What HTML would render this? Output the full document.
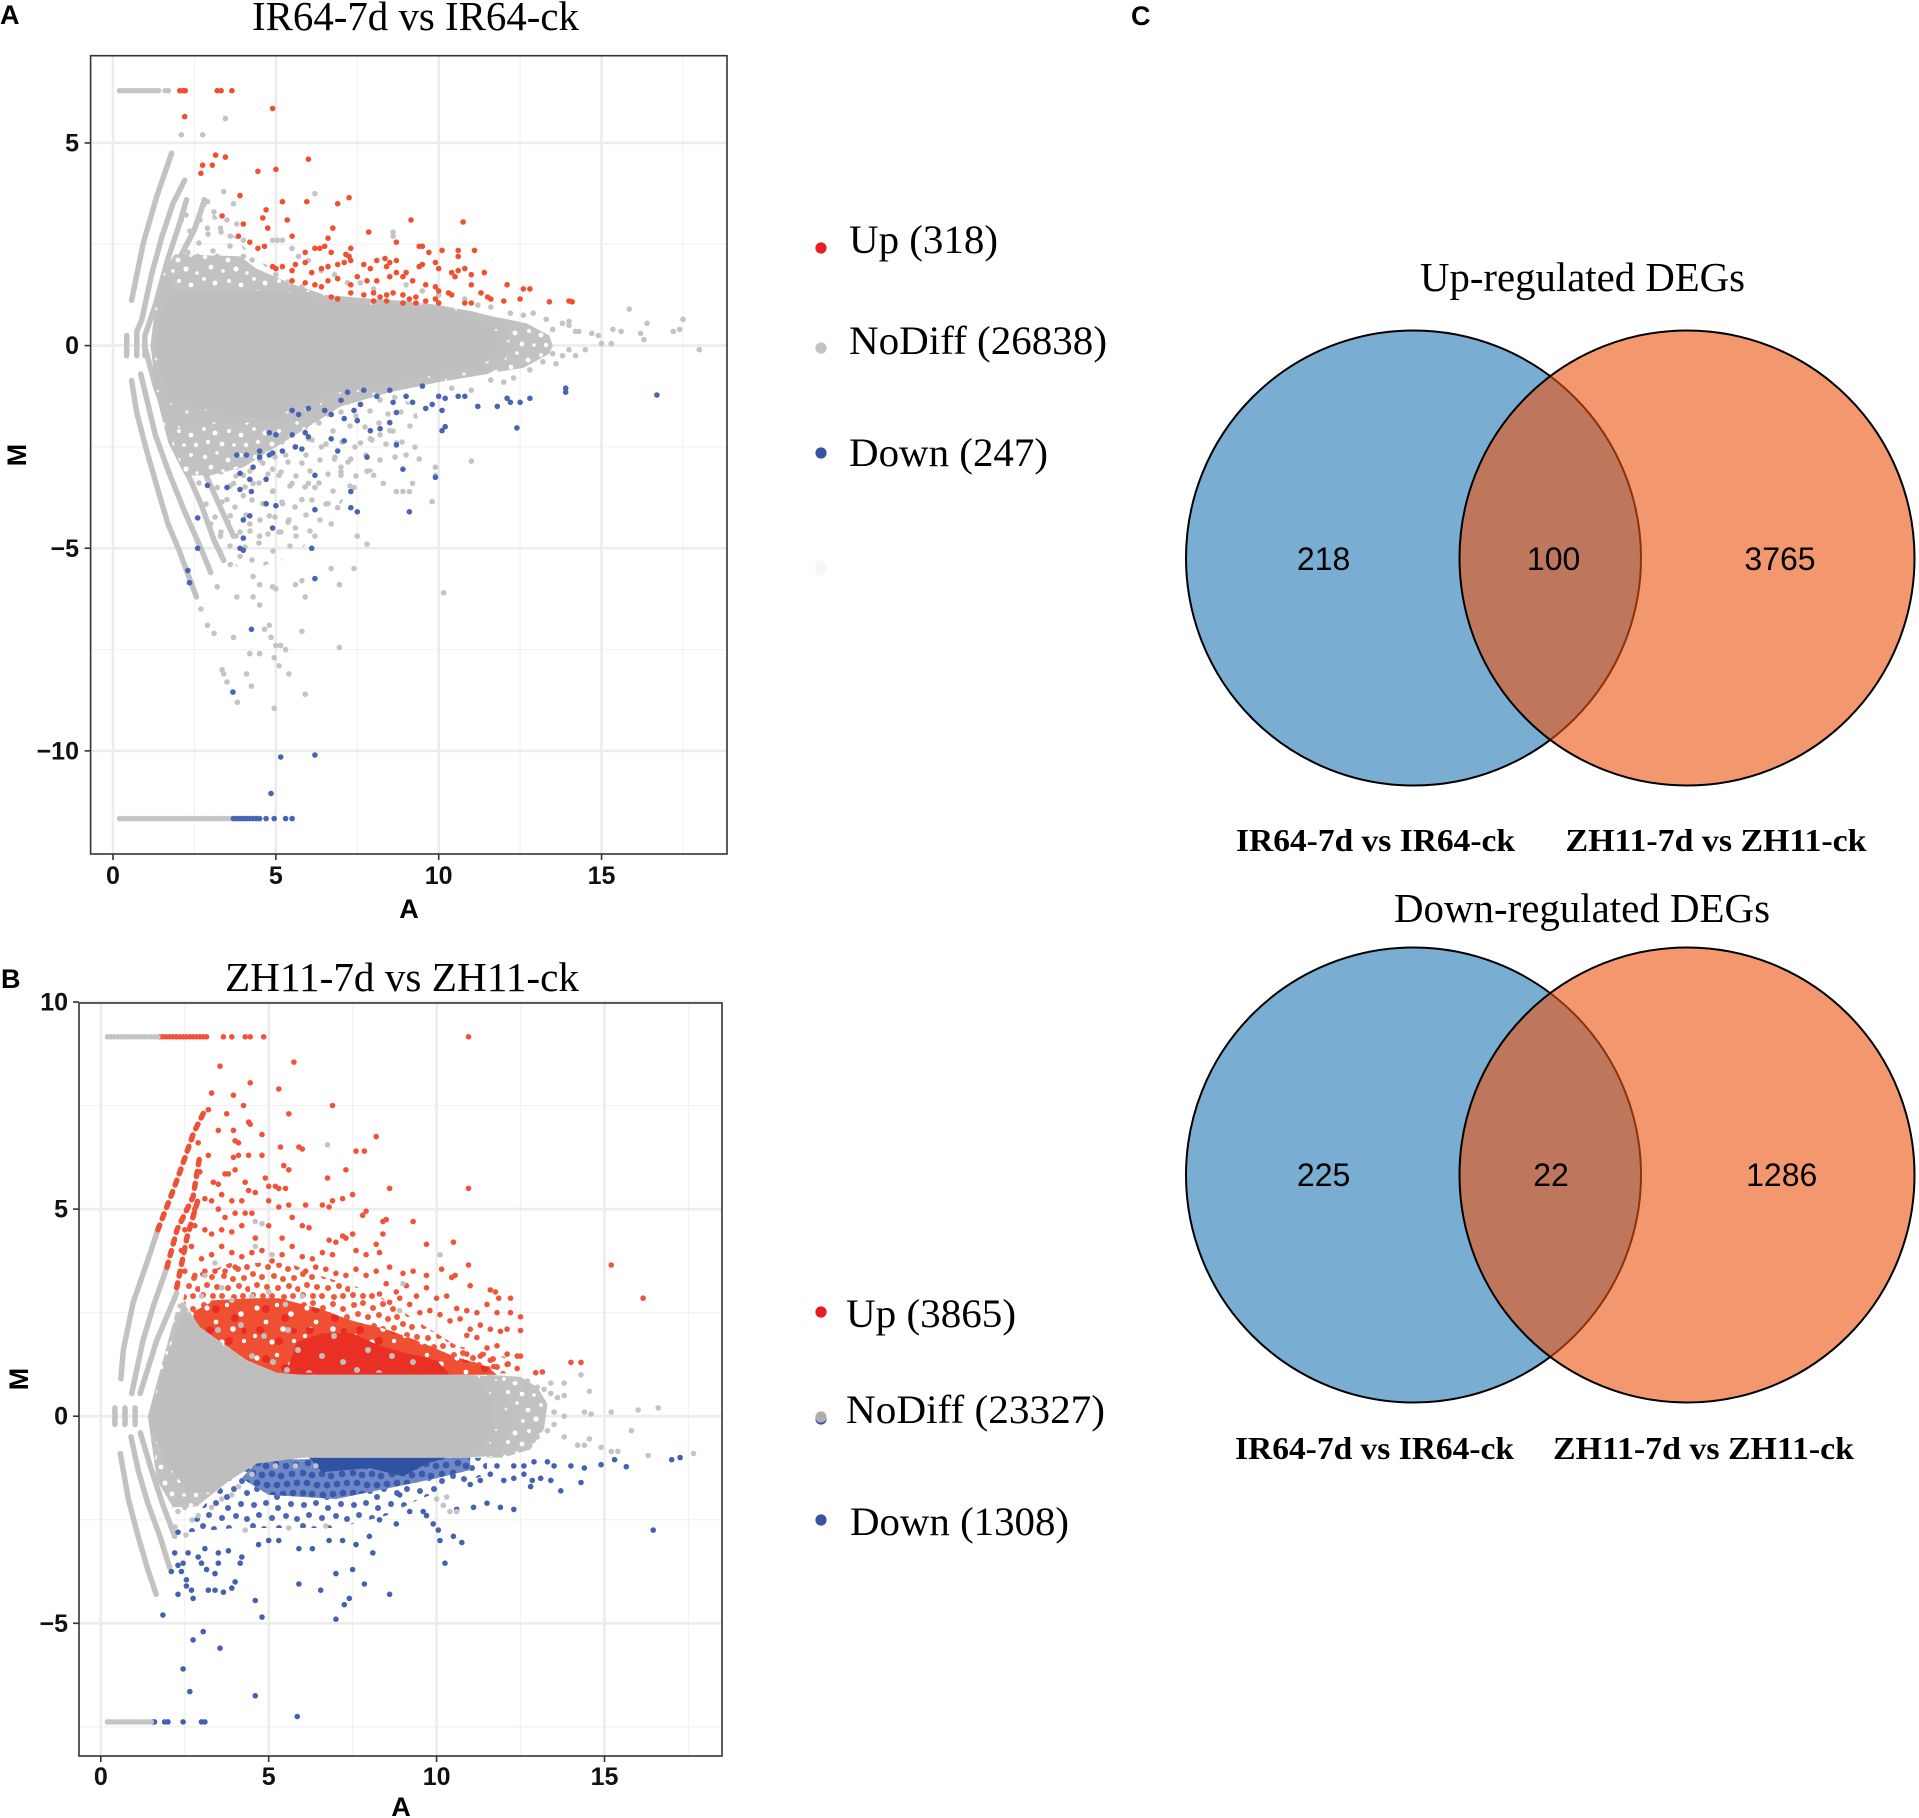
<!DOCTYPE html>
<html lang="en">
<head>
<meta charset="utf-8">
<title>MA plots and Venn diagrams of DEGs</title>
<style>
html,body{margin:0;padding:0;background:#fff;width:1919px;height:1818px;overflow:hidden}
svg{display:block}
text{fill:#000}
.tick{font-family:"Liberation Sans",sans-serif;font-weight:bold;font-size:25px;fill:#111}
.axt{font-family:"Liberation Sans",sans-serif;font-weight:bold;font-size:27px}
.plab{font-family:"Liberation Sans",sans-serif;font-weight:bold;font-size:27px}
.ttl{font-family:"Liberation Serif",serif;font-size:41px}
.leg{font-family:"Liberation Serif",serif;font-size:40px}
.vlab{font-family:"Liberation Serif",serif;font-weight:bold;font-size:32px}
.vnum{font-family:"Liberation Sans",sans-serif;font-size:32px;text-anchor:middle}
</style>
</head>
<body>
<svg id="fig" xmlns="http://www.w3.org/2000/svg" width="1919" height="1818" viewBox="0 0 1919 1818">
  <defs>
    <pattern id="grayDense" patternUnits="userSpaceOnUse" width="50" height="50">
      <rect width="50" height="50" fill="#c0c0c0"/>
      <g fill="#fff" fill-opacity="0.75">
        <circle cx="6" cy="9" r="1.5"/><circle cx="21" cy="4" r="1.1"/><circle cx="37" cy="12" r="1.7"/><circle cx="46" cy="30" r="1.2"/><circle cx="14" cy="24" r="1.8"/><circle cx="29" cy="27" r="1.2"/><circle cx="8" cy="41" r="1.3"/><circle cx="24" cy="44" r="1.7"/><circle cx="40" cy="43" r="1.1"/>
      </g>
    </pattern>
    <pattern id="grayMed" patternUnits="userSpaceOnUse" width="50" height="50">
      <rect width="50" height="50" fill="#c2c2c2"/>
      <g fill="#fff">
        <circle cx="5" cy="7" r="2.2"/><circle cx="17" cy="3" r="1.7"/><circle cx="28" cy="10" r="2.5"/><circle cx="41" cy="5" r="2"/><circle cx="11" cy="17" r="2.4"/><circle cx="23" cy="21" r="1.8"/><circle cx="36" cy="19" r="2.6"/><circle cx="47" cy="23" r="1.7"/><circle cx="4" cy="29" r="1.9"/><circle cx="15" cy="33" r="2.5"/><circle cx="29" cy="31" r="2"/><circle cx="41" cy="35" r="2.4"/><circle cx="8" cy="42" r="2.1"/><circle cx="22" cy="44" r="2.4"/><circle cx="34" cy="45" r="1.8"/><circle cx="46" cy="45" r="2.2"/>
      </g>
    </pattern>
    <pattern id="graySparse" patternUnits="userSpaceOnUse" width="60" height="60">
      <g fill="#c4c4c4">
        <circle cx="5" cy="7" r="2.8"/><circle cx="19" cy="3" r="2.8"/><circle cx="33" cy="11" r="2.8"/><circle cx="50" cy="6" r="2.8"/><circle cx="12" cy="20" r="2.8"/><circle cx="26" cy="24" r="2.8"/><circle cx="42" cy="22" r="2.8"/><circle cx="55" cy="27" r="2.8"/><circle cx="6" cy="35" r="2.8"/><circle cx="20" cy="40" r="2.8"/><circle cx="35" cy="37" r="2.8"/><circle cx="48" cy="42" r="2.8"/><circle cx="10" cy="51" r="2.8"/><circle cx="28" cy="54" r="2.8"/><circle cx="41" cy="52" r="2.8"/><circle cx="56" cy="56" r="2.8"/>
      </g>
    </pattern>
    <pattern id="redMed" patternUnits="userSpaceOnUse" width="50" height="50">
      <g fill="#f05a3c">
        <circle cx="4" cy="5" r="3"/><circle cx="13" cy="3" r="3"/><circle cx="23" cy="8" r="3"/><circle cx="33" cy="4" r="3"/><circle cx="43" cy="9" r="3"/><circle cx="8" cy="14" r="3"/><circle cx="18" cy="17" r="3"/><circle cx="29" cy="15" r="3"/><circle cx="38" cy="19" r="3"/><circle cx="47" cy="17" r="3"/><circle cx="3" cy="24" r="3"/><circle cx="12" cy="27" r="3"/><circle cx="24" cy="26" r="3"/><circle cx="33" cy="29" r="3"/><circle cx="44" cy="28" r="3"/><circle cx="7" cy="35" r="3"/><circle cx="17" cy="37" r="3"/><circle cx="28" cy="38" r="3"/><circle cx="39" cy="36" r="3"/><circle cx="48" cy="39" r="3"/><circle cx="3" cy="45" r="3"/><circle cx="13" cy="46" r="3"/><circle cx="22" cy="46" r="3"/><circle cx="34" cy="47" r="3"/><circle cx="43" cy="46" r="3"/>
      </g>
    </pattern>
    <pattern id="redDense" patternUnits="userSpaceOnUse" width="50" height="50">
      <rect width="50" height="50" fill="#ef4f33"/>
      <g fill="#fff">
        <circle cx="7" cy="8" r="2.6"/><circle cx="27" cy="5" r="2.2"/><circle cx="41" cy="14" r="2.8"/><circle cx="16" cy="22" r="2.4"/><circle cx="33" cy="29" r="2.8"/><circle cx="5" cy="36" r="2.2"/><circle cx="22" cy="42" r="2.6"/><circle cx="44" cy="41" r="2.2"/>
      </g>
      <g fill="#e92c22">
        <circle cx="16" cy="9" r="4"/><circle cx="35" cy="18" r="4"/><circle cx="10" cy="30" r="4"/><circle cx="29" cy="41" r="4"/><circle cx="44" cy="31" r="3"/>
      </g>
    </pattern>
    <pattern id="blueMed" patternUnits="userSpaceOnUse" width="50" height="50">
      <g fill="#4a66b4">
        <circle cx="4" cy="5" r="3"/><circle cx="16" cy="3" r="3"/><circle cx="28" cy="8" r="3"/><circle cx="41" cy="4" r="3"/><circle cx="9" cy="15" r="3"/><circle cx="22" cy="18" r="3"/><circle cx="36" cy="16" r="3"/><circle cx="47" cy="19" r="3"/><circle cx="3" cy="26" r="3"/><circle cx="14" cy="29" r="3"/><circle cx="29" cy="28" r="3"/><circle cx="42" cy="31" r="3"/><circle cx="7" cy="39" r="3"/><circle cx="20" cy="41" r="3"/><circle cx="34" cy="39" r="3"/><circle cx="47" cy="43" r="3"/><circle cx="27" cy="47" r="3"/>
      </g>
    </pattern>
    <pattern id="blueDense" patternUnits="userSpaceOnUse" width="50" height="50">
      <rect width="50" height="50" fill="#6f88c6"/>
      <g fill="#3a5bad">
        <circle cx="4" cy="5" r="3.4"/><circle cx="12" cy="3" r="3.4"/><circle cx="21" cy="7" r="3.4"/><circle cx="31" cy="4" r="3.4"/><circle cx="41" cy="7" r="3.4"/><circle cx="8" cy="13" r="3.4"/><circle cx="16" cy="16" r="3.4"/><circle cx="26" cy="14" r="3.4"/><circle cx="36" cy="16" r="3.4"/><circle cx="46" cy="15" r="3.4"/><circle cx="3" cy="23" r="3.4"/><circle cx="12" cy="25" r="3.4"/><circle cx="22" cy="24" r="3.4"/><circle cx="31" cy="26" r="3.4"/><circle cx="42" cy="24" r="3.4"/><circle cx="7" cy="33" r="3.4"/><circle cx="17" cy="35" r="3.4"/><circle cx="27" cy="35" r="3.4"/><circle cx="37" cy="34" r="3.4"/><circle cx="47" cy="33" r="3.4"/><circle cx="3" cy="43" r="3.4"/><circle cx="12" cy="44" r="3.4"/><circle cx="23" cy="45" r="3.4"/><circle cx="33" cy="44" r="3.4"/><circle cx="43" cy="43" r="3.4"/>
      </g>
    </pattern>
    <pattern id="graySpeck" patternUnits="userSpaceOnUse" width="70" height="60">
      <g fill="#c2bebc">
        <circle cx="8" cy="10" r="3"/><circle cx="31" cy="5" r="3"/><circle cx="54" cy="16" r="3"/><circle cx="18" cy="30" r="3"/><circle cx="42" cy="36" r="3"/><circle cx="63" cy="42" r="3"/><circle cx="7" cy="50" r="3"/><circle cx="29" cy="53" r="3"/>
      </g>
    </pattern>
  </defs>

  <rect width="1919" height="1818" fill="#fff"/>

  <text class="plab" x="0" y="24">A</text>
  <text class="plab" x="1" y="988">B</text>
  <text class="plab" x="1131" y="25">C</text>

  <text class="ttl" x="252" y="30" textLength="327" lengthAdjust="spacingAndGlyphs">IR64-7d vs IR64-ck</text>
  <text class="ttl" x="225" y="991" textLength="354" lengthAdjust="spacingAndGlyphs">ZH11-7d vs ZH11-ck</text>

  <g id="plotA"></g>
  <g id="plotB"></g>

  <g>
    <circle cx="821" cy="248" r="5.6" fill="#ed1c24"/>
    <text class="leg" x="849" y="253" textLength="149" lengthAdjust="spacingAndGlyphs">Up (318)</text>
    <circle cx="821" cy="348" r="5.6" fill="#c4c4c4"/>
    <text class="leg" x="849" y="354" textLength="258" lengthAdjust="spacingAndGlyphs">NoDiff (26838)</text>
    <circle cx="821" cy="453" r="5.6" fill="#3953a4"/>
    <text class="leg" x="849" y="466" textLength="199" lengthAdjust="spacingAndGlyphs">Down (247)</text>
    <ellipse cx="821" cy="568" rx="6" ry="8" fill="#f8f6f7"/>
  </g>
  <g>
    <circle cx="821" cy="1312" r="5.6" fill="#ed1c24"/>
    <text class="leg" x="846" y="1327" textLength="170" lengthAdjust="spacingAndGlyphs">Up (3865)</text>
    <circle cx="821" cy="1419" r="5.6" fill="#3953a4"/>
    <circle cx="821" cy="1417" r="5.6" fill="#b0aeae"/>
    <text class="leg" x="846" y="1423" textLength="259" lengthAdjust="spacingAndGlyphs">NoDiff (23327)</text>
    <circle cx="821" cy="1520" r="5.6" fill="#3953a4"/>
    <text class="leg" x="850" y="1535" textLength="219" lengthAdjust="spacingAndGlyphs">Down (1308)</text>
  </g>

  <g>
    <text class="ttl" x="1420" y="291" textLength="325" lengthAdjust="spacingAndGlyphs">Up-regulated DEGs</text>
    <circle cx="1413.5" cy="558" r="227.5" fill="#7aadd2" stroke="#000" stroke-width="2"/>
    <circle cx="1687" cy="558" r="227.5" fill="#eb530d" fill-opacity="0.6" stroke="#000" stroke-width="2"/>
    <text class="vnum" x="1323.6" y="570">218</text>
    <text class="vnum" x="1553.6" y="570">100</text>
    <text class="vnum" x="1780" y="570">3765</text>
    <text class="vlab" x="1236" y="851" textLength="279" lengthAdjust="spacingAndGlyphs">IR64-7d vs IR64-ck</text>
    <text class="vlab" x="1565.5" y="851" textLength="301" lengthAdjust="spacingAndGlyphs">ZH11-7d vs ZH11-ck</text>
  </g>
  <g>
    <text class="ttl" x="1394" y="922" textLength="376" lengthAdjust="spacingAndGlyphs">Down-regulated DEGs</text>
    <circle cx="1413.5" cy="1175" r="227.5" fill="#7aadd2" stroke="#000" stroke-width="2"/>
    <circle cx="1687" cy="1175" r="227.5" fill="#eb530d" fill-opacity="0.6" stroke="#000" stroke-width="2"/>
    <text class="vnum" x="1323.6" y="1186">225</text>
    <text class="vnum" x="1551" y="1186">22</text>
    <text class="vnum" x="1781.7" y="1186">1286</text>
    <text class="vlab" x="1235" y="1459" textLength="279" lengthAdjust="spacingAndGlyphs">IR64-7d vs IR64-ck</text>
    <text class="vlab" x="1553" y="1459" textLength="301" lengthAdjust="spacingAndGlyphs">ZH11-7d vs ZH11-ck</text>
  </g>
</svg>

<script>
// ===== DATA: every array holds (A, M) pairs =====
const xTickValues = [0, 5, 10, 15];
const xTickLabels = ["0", "5", "10", "15"];
const xMinorValues = [2.5, 7.5, 12.5, 17.5];
const yTickValuesA = [5, 0, -5, -10];
const yTickLabelsA = ["5", "0", "\u22125", "\u221210"];
const yMinorValuesA = [2.5, -2.5, -7.5];
const yTickValuesB = [10, 5, 0, -5];
const yTickLabelsB = ["10", "5", "0", "\u22125"];
const yMinorValuesB = [7.5, 2.5, -2.5, -7.5];

// Panel A: NoDiff cloud outlines (solid, dense, mottled, sparse)
const coreA = [1.3,0, 1.5,0.8, 1.85,1.35, 3.4,1.37, 4.5,1.35, 5.5,1.3, 6.5,1.1, 8,1.0, 9,0.95, 10,0.9, 11,0.7, 11.6,0.4, 11.9,0,
  11.6,-0.35, 11,-0.55, 10,-0.7, 9,-0.85, 8,-1, 7,-1.1, 5.6,-1.5, 4.9,-1.84, 3.4,-1.67, 1.85,-1.4, 1.5,-0.8];
const denseA = [1.15,0, 1.3,1, 1.6,1.9, 1.9,2.25, 3.9,2.2, 4.4,1.9, 5.4,1.55, 6.5,1.25, 8,1.15, 9,1.1, 10,1, 11,0.85, 12,0.65, 12.2,0,
  12,-0.5, 11.5,-0.7, 10,-0.9, 8.5,-1.15, 7,-1.5, 6,-2, 5,-2.5, 4,-3, 3,-3.2, 2.2,-3.2, 1.7,-2.4, 1.35,-1.3];
const tailA = [11.8,0.7, 12.7,0.55, 13.4,0.25, 13.5,0, 13.4,-0.2, 12.6,-0.55, 11.8,-0.65];
const mottleLowA = [1.7,-2.1, 2.2,-3.2, 3,-3.2, 4,-3, 5,-2.5, 6,-2, 6.3,-1.8, 5,-1.9, 3.4,-1.9];
const mottleUpA = [1.9,2.25, 3.9,2.2, 4.4,1.9, 5.4,1.55, 5.4,1.35, 3.4,1.4, 1.85,1.4, 1.6,1.9];
const sparseLowA = [2.3,-3, 3.5,-3, 5,-2.5, 6,-2, 7,-1.5, 8.5,-1.15, 9.3,-1.5, 9.5,-2.5, 7.5,-3.3, 6.5,-4.5, 5.5,-5.2, 4,-5.6, 3.2,-5, 2.7,-4];
const sparseUpA = [2,2.25, 2.2,3.3, 2.7,3.6, 3.5,2.9, 4.3,2.2, 5.5,1.6, 6.5,1.3, 5.4,1.55, 3.9,2.2];
// Panel A: low-count arcs
const arcsA = [
  [0.42,-0.25, 0.42,0.25],
  [0.57,1.12, 0.93,2.53, 1.34,3.67, 1.8,4.75],
  [0.73,-0.25, 0.73,0.35, 0.88,0.63, 1.19,1.78, 1.5,2.69, 1.84,3.5, 2.2,4.08],
  [0.98,-0.25, 0.98,0.25, 1.3,1, 1.67,2.1, 2.04,3, 2.26,3.6],
  [1.67,1.16, 2.04,2.15, 2.5,2.86, 2.8,3.57],
  [0.57,-0.86, 0.73,-1.66, 1.03,-2.58, 1.44,-3.73, 1.69,-4.4, 2.04,-5.07, 2.56,-6.2],
  [0.85,-0.7, 1,-1.2, 1.3,-2.2, 1.7,-3.1, 2.2,-4.1, 2.7,-5, 3,-5.6],
  [1,-0.1, 1.3,-1, 1.7,-1.9, 2.2,-3, 2.7,-3.9, 3.1,-4.8, 3.4,-5.3],
  [1.7,-1, 2.2,-2, 2.8,-3.1, 3.3,-4, 3.7,-4.7]
];
const grayA = [
  0.2,6.29, 0.3,6.29, 0.4,6.29, 0.5,6.29, 0.6,6.29, 0.7,6.29, 0.8,6.29, 0.9,6.29, 1,6.29, 1.1,6.29, 1.2,6.29, 1.3,6.29, 1.4,6.29, 1.6,6.29, 1.7,6.29,
  0.2,-11.67, 0.3,-11.67, 0.4,-11.67, 0.5,-11.67, 0.6,-11.67, 0.7,-11.67, 0.8,-11.67, 0.9,-11.67, 1,-11.67, 1.1,-11.67, 1.2,-11.67, 1.3,-11.67, 1.4,-11.67, 1.5,-11.67, 1.6,-11.67, 1.7,-11.67, 1.8,-11.67, 1.9,-11.67, 2,-11.67, 2.1,-11.67, 2.2,-11.67, 2.3,-11.67, 2.4,-11.67, 2.5,-11.67, 2.6,-11.67, 2.7,-11.67, 2.8,-11.67, 2.9,-11.67, 3,-11.67, 3.1,-11.67, 3.2,-11.67, 3.3,-11.67, 3.4,-11.67, 3.5,-11.67, 3.6,-11.67,
  2.1,5.2, 2.75,5.2, 3.45,5.6, 2.1,3.1, 2.3,2.3, 2.6,2.2, 2.8,2.1, 3,2.15, 3.2,2.2, 3.5,2.15, 3.7,2.1, 4,2.2, 3.1,1.9, 3.3,1.75, 3.6,1.9, 3.8,1.7, 4.1,1.85, 4.3,1.6, 4.5,1.75, 4.8,1.6, 5,1.75, 5.2,1.5, 5.5,1.6, 5.8,1.45, 2.4,1.9, 2.7,1.8, 2.9,1.65,
  3.4,3.8, 3.7,3.5, 2.8,3.6, 2.9,3.55, 3.1,3.3, 3.5,3.1, 3.8,3.0, 2.9,2.9, 3.3,2.9, 3.6,2.7, 4,2.6, 4.9,2.6, 5.05,2.6, 5.2,2.6, 6.2,3.75, 5.5,2.4, 5.7,2.2, 6,2.1, 6.4,1.85, 6.8,1.75, 7.2,1.55, 7.6,1.55, 8,1.4, 8.6,2.8, 8.6,2.7, 9,1.5, 9.5,1.35, 10,1.25, 10.8,1.15, 11.2,1.0, 11.6,0.95, 12.2,0.8, 12.6,0.75, 12.9,0.8, 13.3,0.65, 13.5,0.4, 13.8,0.55, 14,0.5, 14.2,0.35, 14,0.6, 14.3,0.35, 14.7,0.3, 14.9,0.25, 15,0.05, 15.3,0.05, 15.35,0.4, 15.6,0.35, 16.2,0.3, 16.3,0.15, 15.85,0.9, 16.4,0.55, 17.2,0.35, 17.4,0.4, 17.5,0.65, 18,-0.1,
  13.5,-0.2, 13.8,-0.25, 14,-0.1, 14.2,-0.25, 14.5,-0.1, 13.6,-0.45, 13.2,-0.4, 12.8,-0.6, 12.3,-0.8, 12,-0.9, 11.6,-0.85, 11,-1.1, 10.4,-1.05,
  2.3,-2.3, 2.6,-2.5, 2.9,-2.9, 3.1,-2.6, 3.4,-2.8, 3.7,-2.6, 3.8,-3, 4,-3.2, 4.3,-2.6, 4.6,-2.9, 4.9,-3.05, 5.1,-3.2, 5.3,-2.7, 5.6,-2.5, 5.8,-2.9, 6,-2.3, 6.4,-2.5, 6.8,-2.8, 7,-3, 7.3,-2.8, 7.6,-2.4, 7.9,-2.3, 8.2,-2.2, 8.5,-2.1, 8.7,-2.4, 9,-2.7, 9.4,-2.8, 9.9,-3, 9.9,-3.2, 11,-2.85, 8.3,-3.4, 8.9,-3.6, 9.1,-3.6, 9.2,-3.4, 8.7,-3.6,
  2.9,-3.3, 3.2,-3.5, 3.5,-3.8, 3.7,-3.4, 4,-3.7, 4.3,-3.4, 4.6,-3.9, 4.9,-3.6, 5.2,-3.9, 5.5,-3.4, 5.8,-3.8, 6.2,-3.5, 6.6,-3.9, 7,-3.2, 7.4,-3.5, 7.8,-3.1, 8,-3.2, 9.8,-3.85, 6,-3.4,
  3,-4.4, 3.3,-4.7, 3.6,-4.2, 3.9,-4.6, 4.2,-4.4, 4.5,-4.7, 4.8,-4.2, 5.1,-4.6, 5.4,-4.3, 5.6,-4.5, 6.2,-4.7, 6.7,-4.4, 6.9,-4.0, 7.5,-4.7, 7.8,-4.9, 3.3,-5.1, 3.6,-5.4, 3.9,-5.2, 4.3,-5.7, 4.5,-5.9, 4.9,-5.95, 5,-6, 5.6,-5.9, 5.8,-5.8, 6.7,-5.5, 6.95,-5.9, 7.4,-5.5, 10.15,-6.1, 3.2,-5.95, 3.8,-6.2, 4.3,-6.2, 4.5,-6.4, 5.9,-6.2,
  2.7,-6.5, 2.9,-6.9, 3.1,-7.1, 4.65,-7, 4.8,-6.9, 4.85,-7.2, 5,-7.4, 5.15,-7.4, 5.3,-7.5, 3.7,-7.2, 5.8,-7.05, 6.95,-7.45, 4.2,-7.6, 4.5,-7.6, 4.95,-7.7, 5.1,-7.9, 3.35,-8, 3.4,-8.1, 3.5,-8.3, 4.1,-8.1, 4.25,-8.4, 5.4,-8.1, 5.9,-8.6, 3.82,-8.8, 4.95,-8.95
];
const upA = [
  2.05,6.29, 2.15,6.29, 2.22,6.29, 3.2,6.29, 3.32,6.29, 3.65,6.29, 2.2,5.65, 4.9,5.85, 3.15,4.7, 3.45,4.65, 2.75,4.45, 3.05,4.45, 2.7,4.25, 4.45,4.3, 5,4.35, 6,4.6,
  3.9,3.7, 5.2,3.55, 5.95,3.55, 6.9,3.5, 7.25,3.65, 3.35,3.2, 4.7,3.35, 4.6,3.15, 5.35,3.1, 4,3, 4.75,2.9, 6.75,2.9, 7.85,2.8, 9.15,3.1, 10.75,3.05,
  3.85,2.7, 5.5,2.7, 6.6,2.65, 6.5,2.45, 4.2,2.55, 4.45,2.4, 4.65,2.45, 5.9,2.3, 6.2,2.4, 6.35,2.4, 6.7,2.3, 7.15,2.25, 7.25,2.2, 7.3,2.4, 8.7,2.55, 9.4,2.45, 9.5,2.45, 9.7,2.3, 10.1,2.35, 10.6,2.35, 11.1,2.35, 10.6,2.2, 8.35,2.15, 8.7,2.1, 8.5,2.05,
  4.9,1.95, 5,1.9, 5.2,1.95, 5.5,1.85, 5.6,2, 5.9,2.05, 6.1,1.8, 6.4,1.9, 6.6,1.95, 6.9,2, 7.1,2.05, 7.3,2.1, 7.7,2, 7.9,1.9, 8.1,2.1, 8.4,1.95, 9,1.8, 9.4,1.95, 9.5,2, 9.9,2.05, 10,1.9, 10.4,1.8, 10.6,1.85, 10.8,1.9, 11,1.75, 11.4,1.8,
  5.5,1.6, 5.9,1.55, 6.2,1.5, 6.4,1.45, 6.6,1.6, 6.9,1.65, 7.3,1.5, 7.5,1.7, 7.8,1.6, 8.1,1.6, 8.5,1.7, 8.7,1.8, 8.9,1.7, 9.2,1.6, 9.6,1.5, 9.9,1.45, 10,1.35, 10.5,1.7, 11,1.5, 11.3,1.3, 12.1,1.5, 12.6,1.4, 12.8,1.4,
  6.7,1.2, 6.9,1.15, 7.3,1.3, 7.7,1.25, 8,1.3, 8.2,1.2, 8.4,1.25, 8.6,1.3, 8.9,1.25, 9.1,1.15, 9.3,1.2, 9.6,1.1, 9.9,1.15, 10,1.05, 10.3,1.3, 10.4,1.25, 10.8,1.05, 11,1.05, 11.5,1.2, 11.6,1.15, 12,1.1, 12.5,1.15, 13.4,1.08, 14,1.1, 14.1,1.08, 8,1.1, 8.4,1.1, 8.9,1.05, 9.3,1.05
];
const downA = [
  5.5,-1.6, 5.7,-1.7, 6,-1.55, 6.5,-1.6, 6.7,-1.7, 7,-1.35, 7.2,-1.15, 7.4,-1.6, 7.6,-1.45, 7.7,-1.1, 8.1,-1.25, 8.5,-1.1, 8.6,-1.4, 8.7,-1.65, 9,-1.25, 9.2,-1.4, 9.5,-1, 9.6,-1.55, 9.8,-1.45, 10,-1.25, 10.1,-1.6, 10.2,-1.3, 10.6,-1.25, 10.8,-1.25, 11.2,-1.5, 11.8,-1.5, 12.1,-1.3, 12.2,-1.4, 12.5,-1.4, 12.8,-1.3, 13.9,-1.05, 13.9,-1.15, 16.7,-1.22, 12.4,-2.03, 10.1,-2.1, 10.2,-2, 8.5,-1.9, 7.9,-2.1, 8.2,-2.05, 7.1,-1.8, 7.5,-1.85,
  4.8,-2.15, 5,-2.2, 5.5,-2.2, 5.9,-2.15, 6,-2.25, 6.7,-2.3, 7.1,-2.35, 4.5,-2.6, 5.2,-2.6, 5.6,-2.5, 5.8,-2.55, 8.7,-2.45, 6.9,-2.6, 7.8,-2.75,
  3.8,-2.7, 4.1,-2.7, 4.5,-2.75, 4.8,-2.7, 4.9,-2.65, 3.9,-3.15, 4.3,-3, 4.2,-3.3, 2.9,-3.45, 3.5,-3.5, 3.9,-3.55, 4.25,-3.6, 4.7,-3.3, 6.2,-3.2, 8.9,-3.05, 9.9,-3.25, 7.3,-3.6, 4.7,-3.9, 5,-3.95, 7.3,-4, 7.5,-4.1, 6.2,-4.05, 9.1,-4.1, 4,-4.3, 4.2,-4.2, 2.6,-4.25, 4.9,-4.5, 4,-4.75, 3.9,-5, 4,-5.05, 2.6,-5, 6.1,-5, 6.2,-5.75, 2.3,-5.55, 2.35,-5.85, 4.25,-7, 3.68,-8.55, 5.15,-10.15, 6.2,-10.1, 4.85,-11.05,
  3.7,-11.67, 3.8,-11.67, 3.9,-11.67, 4,-11.67, 4.1,-11.67, 4.2,-11.67, 4.3,-11.67, 4.4,-11.67, 4.5,-11.67, 4.7,-11.67, 4.95,-11.67, 5.3,-11.67, 5.5,-11.67
];

// Panel B: cloud outlines
const coreB = [1.5,0, 1.86,1.2, 2.46,2.56, 2.95,2.08, 3.65,1.68, 4.35,1.28, 5.25,1.03, 6,0.99, 10.9,1, 11.3,0.8, 11.6,0.4, 11.7,0,
  11.6,-0.4, 11.3,-0.8, 10.9,-1, 6,-1, 4.65,-1.14, 3.85,-1.54, 3.35,-1.86, 2.6,-1.8, 2,-1.2, 1.65,-0.6];
const denseB = [1.4,0, 1.6,0.6, 1.86,1.3, 2.3,2.7, 2.46,2.75, 2.95,2.15, 3.65,1.75, 4.35,1.35, 5.25,1.05, 6,1, 10.9,1, 11.9,0.95, 12.3,0,
  11.9,-0.95, 10.9,-1, 6,-1, 4.65,-1.14, 3.85,-1.54, 3.35,-1.86, 2.86,-2.18, 2.15,-2.2, 1.67,-1.54];
const tailB = [11.5,1, 12.5,0.95, 13,0.7, 13.3,0.3, 13.2,-0.3, 12.8,-0.8, 12,-1, 11.5,-1];
const mottleLowB = [1.67,-1.54, 2.15,-2.2, 2.86,-2.18, 3.35,-1.86, 2.9,-1.4, 2,-1, 1.6,-0.5];
const mottleUpB = [1.6,0.6, 2.3,2.7, 2.46,2.75, 2.7,2.3, 2.2,1, 1.7,0.4];
const sparseLowB = [2.1,-2.2, 2.9,-2.2, 3.3,-2, 2.9,-2.8, 2.3,-3.3, 2,-2.9];
const upMidB = [2.45,2.8, 2.6,3.4, 3.4,3.55, 3.85,3.7, 5.6,3.7, 6.5,3.4, 8.1,3, 9.6,2.2, 10.6,1.7, 12.2,1.4, 12.4,1.05, 11,1, 5.25,1, 4.35,1.25, 3.65,1.65, 2.95,2.05];
const upDenseB = [2.7,2.5, 3.4,2.8, 4.5,2.85, 5.3,2.85, 6.5,2.6, 7.5,2.3, 8.5,2.1, 9.5,1.8, 10.5,1.45, 11.5,1.2, 11.8,1, 5.2,1, 4.35,1.25, 3.65,1.65, 2.95,2.05];
const upCoreB = [5.5,1, 5.85,1.8, 6.6,2, 7.5,2, 8.3,1.7, 9.2,1.5, 10,1.35, 10.4,1];
const specksB = [3,2.3, 4.5,2.4, 6,2.2, 8,1.9, 9.5,1.5, 9.5,1.05, 5,1.05, 4,1.5];
const downMidB = [4.5,-1.1, 3.6,-1.7, 2.9,-2.3, 2.6,-2.8, 4,-2.7, 5.5,-2.7, 7,-2.7, 8.5,-2.4, 9.5,-2, 10.5,-1.7, 11.5,-1.4, 11.5,-1];
const downDenseB = [4.7,-1.05, 4.2,-1.5, 5,-1.9, 7,-2, 8.5,-1.75, 10,-1.5, 11,-1.3, 11,-1];
const downCoreB = [6.2,-1, 6.6,-1.35, 8,-1.25, 9,-1.45, 9.7,-1.15, 10.3,-1];
// Panel B: low-count arcs, gray then red continuation
const arcsB = [
  [0.42,-0.2, 0.42,0.2],
  [0.72,-0.2, 0.72,0.2],
  [1.02,-0.2, 1.02,0.2],
  [0.6,0.9, 0.67,1.6, 0.96,2.73, 1.47,3.94, 1.7,4.5],
  [0.92,0.55, 1.26,1.84, 1.56,2.65, 1.97,3.6],
  [1.17,0.55, 1.67,1.84, 2.26,2.97],
  [0.58,-0.9, 0.82,-2, 1.11,-2.9, 1.4,-3.7, 1.65,-4.3],
  [0.9,-0.5, 1.11,-1.3, 1.4,-2.1, 1.76,-2.9, 2.05,-3.65],
  [1.18,-0.4, 1.47,-1.2, 1.83,-2.1, 2.2,-2.9]
];
const arcsUpB = [
  [1.7,4.5, 2.16,5.46, 2.4,6, 2.77,6.85, 3.14,7.45],
  [1.97,3.6, 2.27,4.5, 2.75,5.3, 2.95,6.3],
  [2.26,3.1, 2.56,4.3, 2.92,5.3]
];
const grayB = [
  0.2,9.16, 0.3,9.16, 0.4,9.16, 0.5,9.16, 0.6,9.16, 0.7,9.16, 0.8,9.16, 0.9,9.16, 1,9.16, 1.1,9.16, 1.2,9.16, 1.3,9.16, 1.4,9.16, 1.5,9.16, 1.6,9.16, 1.7,9.16,
  0.2,-7.38, 0.3,-7.38, 0.4,-7.38, 0.5,-7.38, 0.6,-7.38, 0.7,-7.38, 0.8,-7.38, 0.9,-7.38, 1,-7.38, 1.1,-7.38, 1.2,-7.38, 1.3,-7.38, 1.4,-7.38, 1.5,-7.38,
  6.75,6.55, 10.1,3.9, 4.8,4.65, 4.6,4.7, 5.1,3.9, 4.6,4.1, 3.4,3.7, 3.1,3.4, 3.6,3.1, 3,2.9, 3.9,2.8, 4.5,2.9, 5,3, 5.5,2.7, 6,2.9, 8.9,2.55, 9.0,3.2,
  12.3,0.9, 12.5,0.75, 12.7,0.85, 13,0.7, 13.2,0.65, 13.4,0.55, 13.6,0.45, 13.8,0.5, 13.8,0.8, 13.4,0.8, 14.3,1, 14.55,0.6, 14.4,0.1, 14.6,0.05, 15.2,0.1, 16,0.15, 16.6,0.2, 13.2,0.2, 13.5,0.1, 13.8,0, 13.5,-0.2, 13.3,-0.35, 13,-0.5, 12.7,-0.75, 13.8,-0.5, 14.2,-0.7, 14.4,-0.7, 14.55,-0.55, 14.9,-0.75, 15.2,-0.85, 15.4,-0.85, 16.3,-0.95, 15.8,-0.35, 17.65,-0.9,
  2.3,-2.3, 2.5,-2.2, 2.9,-2.4, 3.3,-2.2, 3.6,-2, 3.9,-1.9, 4.1,-1.7, 4.5,-1.4, 5.2,-1.2, 5.8,-1.2, 6.4,-1.2, 10,-2, 10.2,-2.15, 10.4,-2.3, 10.6,-2.3, 10.3,-1.95, 6.7,-2.65, 5.6,-2.7, 4.3,-2.75
];
const upB = [
  1.75,9.16, 1.85,9.16, 1.95,9.16, 2.05,9.16, 2.15,9.16, 2.25,9.16, 2.35,9.16, 2.45,9.16, 2.55,9.16, 2.65,9.16, 2.75,9.16, 2.85,9.16, 2.95,9.16, 3.05,9.16, 3.15,9.16, 3.65,9.16, 3.9,9.16, 4.3,9.16, 4.45,9.16, 4.85,9.16, 10.95,9.16, 10.95,5.5,
  3.55,8.45, 5.75,8.55, 4.45,8.05, 5.3,7.9, 3.3,7.8, 3.95,7.75, 4.25,7.5, 6.9,7.5, 3.2,7.4, 3.75,7.3, 5.6,7.3, 4.4,7.1, 4.45,7.05, 8.2,6.75, 4.8,6.8, 3.5,6.9, 3.95,6.9, 4,6.65, 4.1,6.6, 2.9,6.6, 5.35,6.5, 5.9,6.5, 6,6.45, 7.6,6.4, 7.85,6.4, 4.1,6.3, 4.4,6.3, 4.8,6.3, 3.95,6.25, 3.2,6.3,
  2.95,5.9, 3.8,5.85, 3.7,5.85, 4,5.95, 5.6,5.95, 5.45,6.05, 7.3,5.95, 6.75,5.75, 8.6,5.5, 3.35,5.65, 3.5,5.6, 4.3,5.65, 4.9,5.75, 5.3,5.5, 5,5.55, 5.2,5.55, 5.5,5.5, 4.4,5.45, 4.6,5.4, 3.1,5.25, 3.6,5.35, 3.9,5.2, 4.2,5.2, 3.3,5.2, 7.5,5.35, 6.9,5.2, 7.2,5.25, 6.6,5.1, 6.8,5.05, 5,5.2, 5.3,5.05, 5.6,5.1, 6.1,5.1, 2.8,5, 3.5,5, 3.7,4.8, 4,4.9, 4.3,4.9, 4.5,4.9, 7.9,4.95, 7.8,4.85, 5.7,4.8, 6,4.6, 6.2,4.55, 8.5,4.75, 8.4,4.7, 9.3,4.7, 2.5,4.5, 2.8,4.6, 3.1,4.5, 3.3,4.4, 3.6,4.5, 3.9,4.45, 4.2,4.6, 4.6,4.3, 5,4.6, 5.4,4.3, 7,4.2, 7.3,4.3, 7.5,4.4, 7.2,4.35, 6.8,4.25, 8.4,4.4, 8.2,4.15, 9.7,4.15, 10.5,4.2,
  2.4,4, 2.7,4.1, 3,3.8, 3.3,3.9, 3.6,4.1, 3.9,3.95, 4.2,3.85, 4.5,3.95, 4.8,4, 5.1,3.75, 5.4,3.9, 5.7,4.1, 6,3.85, 6.3,3.8, 6.6,3.95, 6.9,3.9, 7.6,4, 7.9,3.9, 8.3,3.95, 8.6,3.6, 9,3.45, 9.3,3.5, 9.7,3.4, 10.15,3.55, 10.45,3.35, 10.55,3.4, 10.95,3.65, 11,3.15, 11.6,3.05, 11.75,3, 11.85,2.85, 12.2,2.85,
  2.5,3.5, 2.8,3.4, 3.1,3.5, 3.4,3.5, 3.7,3.5, 4,3.6, 6.1,3.5, 6.4,3.6, 6.7,3.55, 7,3.45, 7.3,3.4, 7.6,3.55, 7.9,3.4, 8.2,3.5, 8.5,3.2, 8.8,3, 9.1,3.15, 9.4,2.9, 9.7,3.1, 10,2.85, 10.3,2.9, 10.6,2.6, 10.9,2.55, 11.2,2.5, 11.5,2.7, 11.8,2.5, 12.2,2.5, 12.5,2.4,
  9.2,2.7, 9.5,2.5, 9.8,2.55, 10.1,2.45, 10.4,2.3, 10.7,2.35, 11,2.1, 11.3,2.2, 11.6,2.1, 11.9,2.05, 12.1,2.1, 12.5,2.07, 8.9,2.85, 8.6,2.75, 8.3,2.95, 10.9,1.95, 11.2,1.9, 11.5,1.65, 11.8,1.7, 12.1,1.5, 12.4,1.45, 12.5,1.45, 10.9,1.5, 11.3,1.45, 11.6,1.35, 12.1,1.25, 12.4,1.15, 11.1,1.25, 11.7,1.2, 12.95,1.05, 13.15,1.07, 14,1.3, 14.3,1.3, 15.2,3.65, 16.15,2.85
];
const downB = [
  1.55,-7.38, 1.6,-7.38, 1.9,-7.38, 2,-7.38, 2.45,-7.38, 3,-7.38, 3.1,-7.38, 5.85,-7.25, 4.6,-6.75, 2.65,-6.65, 2.45,-6.1, 3.55,-5.6, 2.75,-5.4, 3.05,-5.2, 1.85,-4.8, 4.8,-4.85, 7,-4.9, 4.6,-4.45, 7.25,-4.55, 7.4,-4.4, 8.6,-4.3, 6.55,-4.2, 5.9,-4.05, 7.85,-4.05, 3.2,-4.2, 3.4,-4.2, 3.65,-4.25, 2.55,-4.1, 2.7,-4.2, 2.75,-4.4, 2.3,-4.3, 4,-4, 3.9,-4.15, 2.55,-3.95, 7,-3.8, 7.5,-3.7, 2.4,-3.75, 3.4,-3.8, 3.15,-3.7, 10.25,-3.55, 2.1,-3.75, 2.3,-3.6, 2.45,-3.55, 3,-3.55, 3.5,-3.55, 4.15,-3.55,
  2.2,-3.3, 2.6,-3.3, 2.9,-3.4, 3.1,-3.2, 3.5,-3.3, 3.8,-3.25, 4.2,-3.4, 4.7,-3.1, 5,-3, 5.3,-3, 5.9,-3.2, 6.3,-3.2, 6.8,-3, 7.2,-3, 7.6,-3.1, 8.1,-3.3, 8,-2.9, 10.05,-2.75, 10.1,-3, 10.5,-2.9, 10.75,-3.05, 16.45,-2.75, 9.9,-2.6, 2.3,-2.8, 8.3,-2.5, 8.8,-2.6,
  8.9,-1.9, 9.2,-2.3, 9.6,-2.3, 9.7,-2.4, 10.6,-2.25, 11.1,-2.2, 11.5,-2.1, 11.9,-2.2, 12.3,-2.25, 11,-1.65, 11.3,-1.55, 11.6,-1.4, 12,-1.55, 12.3,-1.5, 12.6,-1.4, 12.8,-1.7, 12.85,-1.55, 13.1,-1.5, 13.4,-1.55, 13.7,-1.8, 14.3,-1.6, 11.8,-1.2, 12.3,-1.2, 12.6,-1.2, 12.9,-1.1, 13.3,-1.1, 13.5,-1.2, 14,-1.2, 14.4,-1.25, 14.9,-1.17, 15.3,-1.05, 15.65,-1.22, 17,-1.05, 17.25,-1
];

// ===== AXIS HELPERS =====
const NS = "http://www.w3.org/2000/svg";
function makeScale(v0, px0, pxPerUnit) {
  return function (v) { return px0 + (v - v0) * pxPerUnit; };
}
const panelA = {
  root: document.getElementById("plotA"),
  left: 90.6, right: 727, top: 55.7, bottom: 854,
  sx: makeScale(0, 113, 32.57), sy: makeScale(0, 345.6, -40.53),
  yVals: yTickValuesA, yLabs: yTickLabelsA, yMin: yMinorValuesA,
  xTitleX: 409, xTitleY: 918, xLabY: 884, yLabX: 79, yTitleX: 26, yTitleY: 455
};
const panelB = {
  root: document.getElementById("plotB"),
  left: 79, right: 722, top: 1003, bottom: 1756,
  sx: makeScale(0, 100.8, 33.58), sy: makeScale(0, 1416.2, -41.42),
  yVals: yTickValuesB, yLabs: yTickLabelsB, yMin: yMinorValuesB,
  xTitleX: 401, xTitleY: 1816, xLabY: 1785, yLabX: 68, yTitleX: 28, yTitleY: 1379
};

function el(tag, attrs, parent, txt) {
  const e = document.createElementNS(NS, tag);
  for (const k in attrs) e.setAttribute(k, attrs[k]);
  if (txt !== undefined) e.textContent = txt;
  parent.appendChild(e);
  return e;
}
function pairsToPath(p, arr, close) {
  let d = "";
  for (let i = 0; i + 1 < arr.length; i += 2) {
    d += (i === 0 ? "M" : "L") + p.sx(arr[i]).toFixed(1) + " " + p.sy(arr[i + 1]).toFixed(1);
  }
  return d + (close ? "Z" : "");
}
function drawFrame(p) {
  const g = el("g", {}, p.root);
  
  
  xMinorValues.forEach(function (v) {
    const x = p.sx(v);
    if (x < p.right) {
      const l = el("line", { x1: x, x2: x, y1: p.top, y2: p.bottom, stroke: "#f2f2f2", "stroke-width": 1.2 }, g);
      
      
    }
  });
  p.yMin.forEach(function (v) {
    const y = p.sy(v);
    const l = el("line", { x1: p.left, x2: p.right, y1: y, y2: y, stroke: "#f2f2f2", "stroke-width": 1.2 }, g);
    
    
  });
  xTickValues.forEach(function (v) {
    const x = p.sx(v);
    const l = el("line", { x1: x, x2: x, y1: p.top, y2: p.bottom, stroke: "#ececec", "stroke-width": 2.6 }, g);
    
    
  });
  p.yVals.forEach(function (v) {
    const y = p.sy(v);
    const l = el("line", { x1: p.left, x2: p.right, y1: y, y2: y, stroke: "#ececec", "stroke-width": 2.6 }, g);
    
    
  });
}
function drawAxes(p) {
  const border = el("rect", { x: p.left, y: p.top, width: p.right - p.left, height: p.bottom - p.top, fill: "none", stroke: "#333", "stroke-width": 1.6 }, p.root);
  
  
  xTickValues.forEach(function (v, i) {
    const x = p.sx(v);
    const t = el("line", { x1: x, x2: x, y1: p.bottom, y2: p.bottom + 6, stroke: "#333", "stroke-width": 1.6 }, p.root);
    
    
    const lab = el("text", { class: "tick", x: x, y: p.xLabY, "text-anchor": "middle" }, p.root, xTickLabels[i]);
    
    
  });
  p.yVals.forEach(function (v, i) {
    const y = p.sy(v);
    const t = el("line", { x1: p.left - 6, x2: p.left, y1: y, y2: y, stroke: "#333", "stroke-width": 1.6 }, p.root);
    
    
    const lab = el("text", { class: "tick", x: p.yLabX, y: y + 8.5, "text-anchor": "end" }, p.root, p.yLabs[i]);
    
    
  });
  const xt = el("text", { class: "axt", x: p.xTitleX, y: p.xTitleY, "text-anchor": "middle" }, p.root, "A");
  
  
  const yt = el("text", { class: "axt", x: p.yTitleX, y: p.yTitleY, "text-anchor": "middle", transform: "rotate(-90 " + p.yTitleX + " " + p.yTitleY + ")" }, p.root, "M");
  
  
}
function drawArea(p, arr, fill) {
  const a = el("path", { d: pairsToPath(p, arr, true), fill: fill }, p.root);
  
  
}
function drawArcs(p, arcs, color, dash) {
  arcs.forEach(function (arc) {
    const attrs = { d: pairsToPath(p, arc, false), fill: "none", stroke: color, "stroke-width": 5.5, "stroke-linecap": "round", "stroke-linejoin": "round" };
    if (dash) attrs["stroke-dasharray"] = dash;
    const a = el("path", attrs, p.root);
    
    
  });
}
function drawPoints(p, arr, color, name) {
  const g = el("g", { fill: color }, p.root);
  
  
  for (let i = 0; i + 1 < arr.length; i += 2) {
    const c = el("circle", { cx: p.sx(arr[i]).toFixed(1), cy: p.sy(arr[i + 1]).toFixed(1), r: 2.8 }, g);
    
    
  }
}

// ===== PANEL A =====
drawFrame(panelA);
drawArcs(panelA, arcsA, "#c2c2c2");
drawArea(panelA, sparseLowA, "url(#graySparse)");
drawArea(panelA, sparseUpA, "url(#graySparse)");
drawPoints(panelA, grayA, "#c4c4c4", "nodiff-points");
drawArea(panelA, tailA, "url(#grayMed)");
drawArea(panelA, denseA, "url(#grayDense)");
drawArea(panelA, mottleLowA, "url(#grayMed)");
drawArea(panelA, mottleUpA, "url(#grayMed)");
drawArea(panelA, coreA, "#bebebe");
drawPoints(panelA, upA, "#f0502f", "up-points");
drawPoints(panelA, downA, "#4a63b4", "down-points");
drawAxes(panelA);

// ===== PANEL B =====
drawFrame(panelB);
drawArcs(panelB, arcsB, "#c2c2c2");
drawArcs(panelB, arcsUpB, "#ee5236", "5 7");
drawArea(panelB, sparseLowB, "url(#graySparse)");
drawArea(panelB, upMidB, "url(#redMed)");
drawArea(panelB, upDenseB, "url(#redDense)");
drawArea(panelB, upCoreB, "#ea2f24");
drawArea(panelB, downMidB, "url(#blueMed)");
drawArea(panelB, downDenseB, "url(#blueDense)");
drawArea(panelB, downCoreB, "#2f52a3");
drawPoints(panelB, upB, "#f0533a", "up-points");
drawPoints(panelB, downB, "#4460b0", "down-points");
drawArea(panelB, tailB, "url(#grayMed)");
drawArea(panelB, denseB, "url(#grayDense)");
drawArea(panelB, mottleLowB, "url(#grayMed)");
drawArea(panelB, mottleUpB, "url(#grayMed)");
drawArea(panelB, coreB, "#bebebe");
drawArea(panelB, specksB, "url(#graySpeck)");
drawPoints(panelB, grayB, "#c4c4c4", "nodiff-points");
drawAxes(panelB);
</script>
</body>
</html>
